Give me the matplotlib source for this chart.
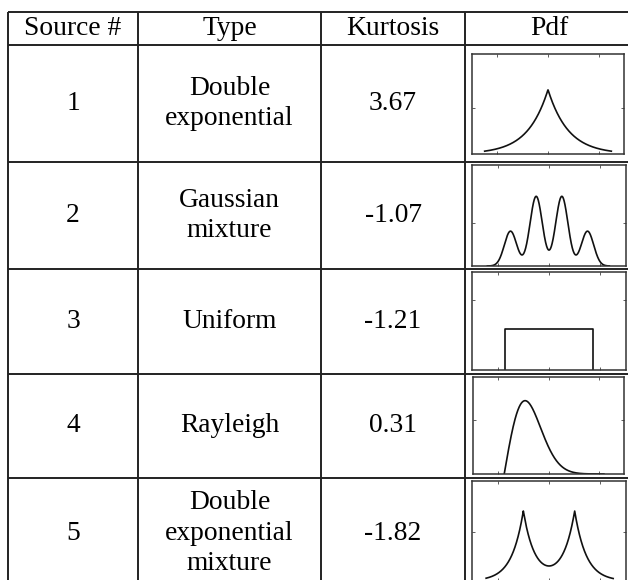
import numpy as np
import matplotlib
matplotlib.use('Agg')
import matplotlib.pyplot as plt

plt.rcParams['font.family'] = ['Liberation Serif', 'DejaVu Serif']

# table contents
headers = ['Source #', 'Type', 'Kurtosis', 'Pdf']
source_ids = ['1', '2', '3', '4', '5']
types = ['Double\nexponential', 'Gaussian\nmixture', 'Uniform', 'Rayleigh',
         'Double\nexponential\nmixture']
kurtosis = ['3.67', '-1.07', '-1.21', '0.31', '-1.82']

# pdf parameters
laplace_scale = 0.8
laplace_range = (-2.5, 2.5)
gmix_centers = [-1.5, -0.5, 0.5, 1.5]
gmix_weights = [0.5, 1.0, 1.0, 0.5]
gmix_sigma = 0.24
gmix_range = (-2.4, 2.35)
unif_bounds = (-1.73, 1.73)
rayleigh_shift = -1.76
rayleigh_sigma = 0.83
rayleigh_end = 2.2
lapmix_centers = [-1.0, 1.0]
lapmix_scale = 0.45
lapmix_range = (-2.45, 2.5)

# layout in pixels (figure is 628 x 580)
W, H = 628, 580
col_x = [8, 138, 321, 465, 700]
row_y = [12, 45, 162, 269, 374, 478, 590]
# inset boxes: x0, x1, y0, y1
boxes = [(472, 624, 54, 154), (472, 626, 165, 266), (472, 626, 272, 370),
         (473, 624, 377, 474), (472, 626, 481, 581)]
peak_frac = [0.64, 0.69, 0.415, 0.756, 0.70]
ytick_frac = [0.46, 0.43, 0.71, 0.56, 0.49]

fig = plt.figure(figsize=(W / 100, H / 100), dpi=100)
ax = fig.add_axes([0, 0, 1, 1])
ax.set_xlim(0, W)
ax.set_ylim(H, 0)
ax.axis('off')

lc = '#222222'
for y in row_y[:-1]:
    ax.plot([col_x[0], col_x[-1]], [y, y], color=lc, lw=1.4, solid_capstyle='butt')
for x in col_x[:-1]:
    ax.plot([x, x], [row_y[0], row_y[-1]], color=lc, lw=1.4, solid_capstyle='butt')

fs = 19.8
centers_x = [(col_x[i] + col_x[i + 1]) / 2 for i in range(3)]
head_y = (row_y[0] + row_y[1]) / 2
for i, h in enumerate(headers):
    cx = centers_x[i] if i < 3 else (465 + 628) / 2 + 3
    ax.text(cx, head_y, h, ha='center', va='center', fontsize=fs)

for r in range(5):
    cy = (row_y[r + 1] + row_y[r + 2]) / 2
    if r == 4:
        cy = 533
    ax.text(centers_x[0], cy, source_ids[r], ha='center', va='center', fontsize=fs)
    ax.text(centers_x[1], cy, types[r], ha='center', va='center', fontsize=fs,
            linespacing=1.27)
    ax.text(centers_x[2], cy, kurtosis[r], ha='center', va='center', fontsize=fs)

# pdf curves
curves = []
x = np.linspace(laplace_range[0], laplace_range[1], 600)
curves.append((x, np.exp(-np.abs(x) / laplace_scale) / (2 * laplace_scale)))

x = np.linspace(gmix_range[0], gmix_range[1], 600)
y = sum(w * np.exp(-(x - c) ** 2 / (2 * gmix_sigma ** 2))
        for c, w in zip(gmix_centers, gmix_weights))
curves.append((x, y))

a, b = unif_bounds
hu = 1 / (b - a)
curves.append((np.array([a, a, b, b]), np.array([0, hu, hu, 0])))

x = np.linspace(rayleigh_shift, rayleigh_end, 600)
t = x - rayleigh_shift
curves.append((x, t / rayleigh_sigma ** 2 * np.exp(-t ** 2 / (2 * rayleigh_sigma ** 2))))

x = np.linspace(lapmix_range[0], lapmix_range[1], 800)
y = sum(np.exp(-np.abs(x - c) / lapmix_scale) for c in lapmix_centers)
curves.append((x, y))

for k, (x0, x1, y0, y1) in enumerate(boxes):
    iax = fig.add_axes([x0 / W, 1 - y1 / H, (x1 - x0) / W, (y1 - y0) / H])
    cx_, cy_ = curves[k]
    top = cy_.max() / peak_frac[k]
    iax.plot(cx_, cy_, color='#111111', lw=1.2)
    iax.set_xlim(-3, 3)
    iax.set_ylim(0, top)
    iax.set_xticks([-2, 0, 2])
    iax.set_yticks([ytick_frac[k] * top])
    iax.tick_params(direction='in', length=2.5, width=0.6, colors='#444444',
                    top=True, right=True, labelbottom=False, labelleft=False)
    for s in iax.spines.values():
        s.set_color('#333333')
        s.set_linewidth(1.1)

plt.savefig('out.png', dpi=100)
